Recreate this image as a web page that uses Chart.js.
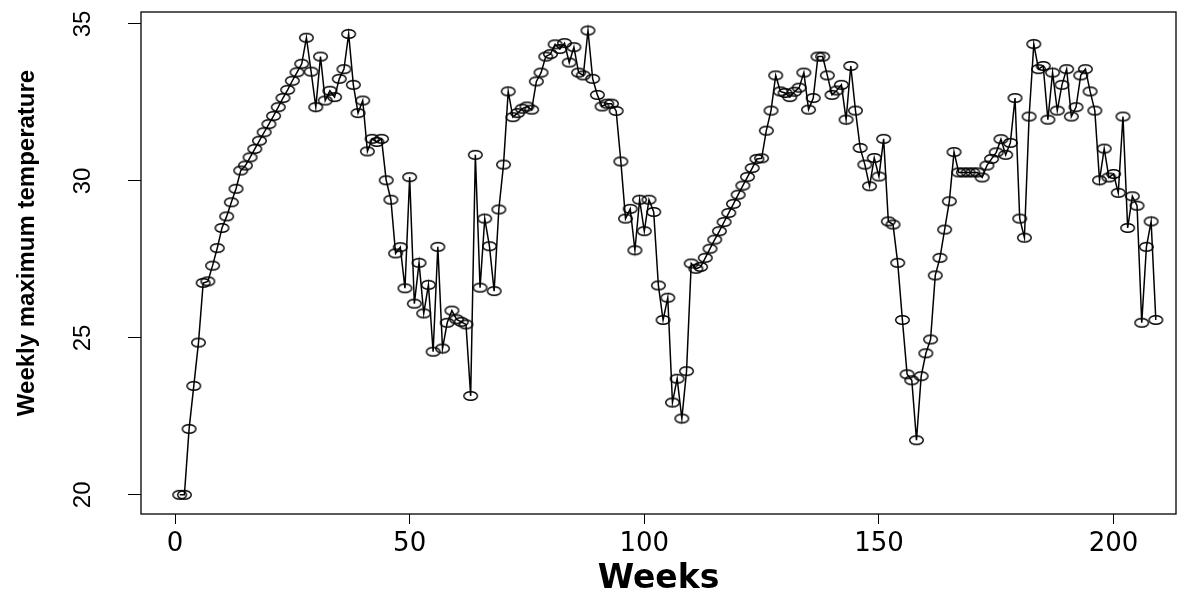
<!DOCTYPE html>
<html>
<head>
<meta charset="utf-8">
<script src="https://cdn.jsdelivr.net/npm/chart.js@4.4.1/dist/chart.umd.min.js"></script>
<style>
  html, body { margin: 0; padding: 0; background: #fff; }
  #wrap { width: 1186px; height: 593px; }
</style>
</head>
<body>
<div id="wrap"><canvas id="myChart" width="1186" height="593"></canvas></div>
<script>
// weekly maximum temperature
var temps = [
	20.0, 20.0, 22.1, 23.47, 24.85, 26.75, 26.8, 27.3, 27.86, 28.5,
	28.87, 29.32, 29.75, 30.33, 30.49, 30.75, 31.02, 31.28, 31.55, 31.81,
	32.07, 32.35, 32.64, 32.9, 33.19, 33.46, 33.73, 34.56, 33.48, 32.35,
	33.96, 32.56, 32.87, 32.67, 33.25, 33.56, 34.68, 33.06, 32.16, 32.56,
	30.94, 31.34, 31.24, 31.34, 30.02, 29.4, 27.69, 27.89, 26.58, 30.12,
	26.09, 27.39, 25.78, 26.69, 24.56, 27.9, 24.66, 25.48, 25.87, 25.59,
	25.51, 25.43, 23.15, 30.83, 26.6, 28.8, 27.92, 26.49, 29.09, 30.52,
	32.85, 32.03, 32.16, 32.3, 32.37, 32.27, 33.17, 33.45, 33.96, 34.04,
	34.35, 34.2, 34.39, 33.77, 34.26, 33.45, 33.36, 34.79, 33.25, 32.74,
	32.37, 32.46, 32.46, 32.23, 30.62, 28.8, 29.11, 27.79, 29.4, 28.4,
	29.4, 29.01, 26.67, 25.57, 26.28, 22.94, 23.7, 22.43, 23.94, 27.37,
	27.2, 27.26, 27.55, 27.84, 28.13, 28.4, 28.69, 28.98, 29.27, 29.56,
	29.85, 30.13, 30.41, 30.7, 30.72, 31.6, 32.24, 33.36, 32.85, 32.8,
	32.67, 32.84, 32.97, 33.45, 32.27, 32.64, 33.96, 33.96, 33.36, 32.74,
	32.88, 33.06, 31.95, 33.66, 32.24, 31.05, 30.52, 29.83, 30.73, 30.14,
	31.34, 28.71, 28.61, 27.39, 25.57, 23.84, 23.65, 21.74, 23.78, 24.51,
	24.95, 26.99, 27.55, 28.45, 29.35, 30.92, 30.27, 30.27, 30.27, 30.27,
	30.27, 30.11, 30.49, 30.7, 30.91, 31.33, 30.83, 31.21, 32.64, 28.8,
	28.19, 32.05, 34.36, 33.56, 33.66, 31.95, 33.45, 32.24, 33.06, 33.56,
	32.05, 32.35, 33.36, 33.56, 32.85, 32.24, 30.02, 31.03, 30.11, 30.22,
	29.62, 32.05, 28.5, 29.51, 29.21, 25.48, 27.9, 28.71, 25.57
];
var weeks = temps.map(function(t, i){ return i + 1; });
var xTicks = [0, 50, 100, 150, 200];
var yTicks = [20, 25, 30, 35];

// open ellipse marker like R's pch=1 on a stretched device
function ringMarker(){
	var c = document.createElement('canvas');
	c.width = 17; c.height = 12;
	var g = c.getContext('2d');
	g.strokeStyle = '#000';
	g.lineWidth = 1.4;
	g.beginPath();
	g.ellipse(8.5, 6, 6.8, 4.3, 0, 0, Math.PI * 2);
	g.stroke();
	return c;
}

var boxPlugin = {
	id: 'box',
	afterDraw: function(chart){
		var a = chart.chartArea, ctx = chart.ctx;
		ctx.save();
		ctx.strokeStyle = '#000';
		ctx.lineWidth = 1.3;
		ctx.strokeRect(a.left, a.top, a.right - a.left, a.bottom - a.top);
		ctx.restore();
	}
};

var ctx = document.getElementById('myChart').getContext('2d');
new Chart(ctx, {
	type: 'line',
	data: {
		datasets: [{
			data: weeks.map(function(w, i){ return {x: w, y: temps[i]}; }),
			borderColor: '#000',
			borderWidth: 1.5,
			tension: 0,
			fill: false,
			pointStyle: ringMarker(),
			pointRadius: 6,
			pointHoverRadius: 6
		}]
	},
	options: {
		responsive: false,
		animation: false,
		events: [],
		layout: { padding: { top: 12, right: 10, left: 0, bottom: 0 } },
		plugins: { legend: { display: false }, tooltip: { enabled: false } },
		scales: {
			x: {
				type: 'linear',
				min: -7.25,
				max: 213.3,
				afterBuildTicks: function(s){ s.ticks = xTicks.map(function(v){ return {value: v}; }); },
				afterFit: function(s){ s.height = 79; },
				grid: { display: true, drawOnChartArea: false, drawTicks: true, tickLength: 10, color: '#000', lineWidth: 1 },
				border: { display: false },
				ticks: { color: '#000', padding: 5, maxRotation: 0, font: { family: 'DejaVu Sans', size: 26 } },
				title: { display: true, text: 'Weeks', color: '#000', padding: { top: 0, bottom: 0 },
					font: { family: 'DejaVu Sans', weight: 'bold', size: 33, lineHeight: 0.8 } }
			},
			y: {
				min: 19.39,
				max: 35.38,
				afterBuildTicks: function(s){ s.ticks = yTicks.map(function(v){ return {value: v}; }); },
				afterFit: function(s){ s.width = 141; s.paddingTop = 0; s.paddingBottom = 0; },
				grid: { display: true, drawOnChartArea: false, drawTicks: true, tickLength: 13, color: '#000', lineWidth: 1 },
				border: { display: false },
				ticks: { color: '#000', padding: 31, minRotation: 90, maxRotation: 90, crossAlign: 'center',
					font: { family: "'Liberation Sans', Arial, sans-serif", size: 24 } },
				title: { display: true, text: '      Weekly maximum temperature', color: '#000', padding: { top: 13, bottom: 0 },
					font: { family: "'Liberation Sans', Arial, sans-serif", weight: 'bold', size: 24, lineHeight: 1.2 } }
			}
		}
	},
	plugins: [boxPlugin]
});
</script>
</body>
</html>
